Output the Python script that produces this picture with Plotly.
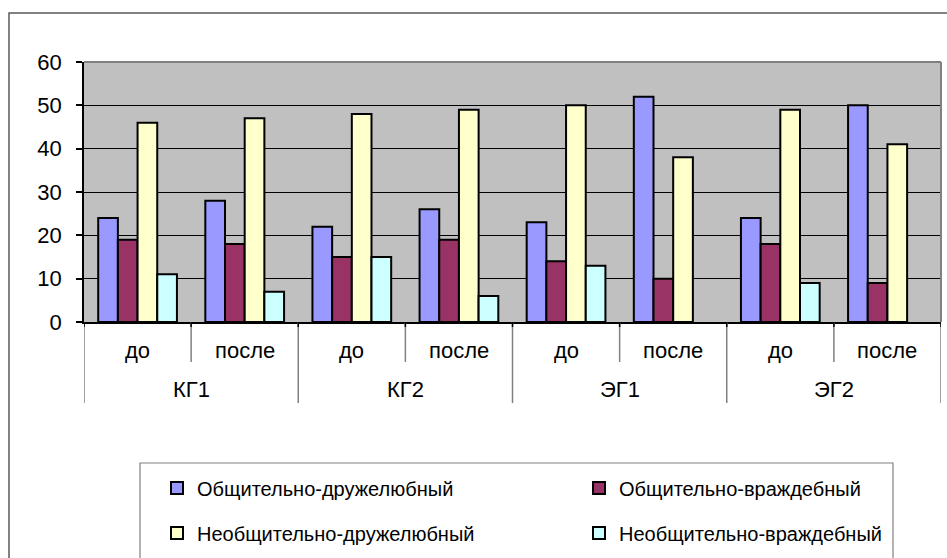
import plotly.graph_objects as go

# Groups, phases and the four communication-style series (percent)
groups = ["КГ1", "КГ2", "ЭГ1", "ЭГ2"]
phases = ["до", "после"]
series_names = [
    "Общительно-дружелюбный",
    "Общительно-враждебный",
    "Необщительно-дружелюбный",
    "Необщительно-враждебный",
]
sociable_friendly = [24, 28, 22, 26, 23, 52, 24, 50]
sociable_hostile = [19, 18, 15, 19, 14, 10, 18, 9]
unsociable_friendly = [46, 47, 48, 49, 50, 38, 49, 41]
unsociable_hostile = [11, 7, 15, 6, 13, None, 9, None]
y_ticks = [0, 10, 20, 30, 40, 50, 60]

colors = ["#9999FF", "#993366", "#FFFFCC", "#CCFFFF"]
values = [sociable_friendly, sociable_hostile, unsociable_friendly, unsociable_hostile]

W, H = 947, 558
L, R, T, B = 84, 6, 62, 236
plot_h = H - T - B
FONT = "Liberation Sans, Arial, sans-serif"
FS = 22

n_cat = len(groups) * len(phases)
xpos = list(range(n_cat))


def py(pix):
    """Pixel row -> paper y."""
    return (H - B - pix) / plot_h


def px(pix):
    """Pixel column -> paper x."""
    return (pix - L) / (W - L - R)


fig = go.Figure()
for i, (name, vals, col) in enumerate(zip(series_names, values, colors)):
    fig.add_trace(go.Bar(
        x=xpos, y=vals, name=name,
        marker=dict(color=col, line=dict(color="black", width=2)),
        legend="legend" if i < 2 else "legend2",
    ))

annotations = []
for i in range(n_cat):
    annotations.append(dict(
        x=i, y=py(350), xref="x", yref="paper", text=phases[i % 2],
        showarrow=False, font=dict(size=FS, family=FONT, color="black"),
        xanchor="center", yanchor="middle"))
for g, gname in enumerate(groups):
    annotations.append(dict(
        x=2 * g + 0.5, y=py(389), xref="x", yref="paper", text=gname,
        showarrow=False, font=dict(size=FS, family=FONT, color="black"),
        xanchor="center", yanchor="middle"))

shapes = []
# category dividers below the axis
for k in range(n_cat + 1):
    xb = k - 0.5
    bottom = 403 if k % 2 == 0 else 362
    shapes.append(dict(type="line", xref="x", yref="paper", x0=xb, x1=xb,
                       y0=0, y1=py(bottom), line=dict(color="#808080", width=1.5)))
    shapes.append(dict(type="line", xref="x", yref="paper", x0=xb, x1=xb,
                       y0=0, y1=py(327), line=dict(color="black", width=1.5)))
# plot-area frame (top and right)
shapes.append(dict(type="line", xref="paper", yref="paper", x0=0, x1=1, y0=1, y1=1,
                   line=dict(color="#808080", width=2)))
shapes.append(dict(type="line", xref="paper", yref="paper", x0=1, x1=1, y0=0, y1=1,
                   line=dict(color="#808080", width=2)))
# chart frame
shapes.append(dict(type="rect", xref="paper", yref="paper",
                   x0=px(9), x1=px(960), y0=py(13), y1=py(600),
                   line=dict(color="#595959", width=1.5), layer="below"))
# legend frame
shapes.append(dict(type="rect", xref="paper", yref="paper",
                   x0=px(140), x1=px(893), y0=py(463), y1=py(600),
                   line=dict(color="#808080", width=1.2)))

legend_common = dict(
    orientation="h", xref="container", yref="container",
    xanchor="left", yanchor="middle",
    entrywidth=377, entrywidthmode="pixels",
    font=dict(size=20, family=FONT, color="black"),
    bgcolor="rgba(0,0,0,0)", borderwidth=0, itemwidth=30,
)

fig.update_layout(
    width=W, height=H,
    margin=dict(l=L, r=R, t=T, b=B),
    paper_bgcolor="white", plot_bgcolor="#C0C0C0",
    barmode="group", bargap=0.265, bargroupgap=0,
    font=dict(family=FONT, size=FS, color="black"),
    xaxis=dict(range=[-0.5, n_cat - 0.5], showticklabels=False, ticks="",
               showgrid=False, zeroline=False, showline=True,
               linecolor="black", linewidth=1.5, fixedrange=True),
    yaxis=dict(range=[0, 60], tickvals=y_ticks, ticks="outside", ticklen=6,
               tickcolor="black", tickwidth=1.5, showline=True, linecolor="black",
               linewidth=1.5, gridcolor="black", gridwidth=1, zeroline=False,
               ticklabelstandoff=10, tickfont=dict(size=FS, family=FONT),
               fixedrange=True),
    legend=dict(x=(178 - 21) / W, y=1 - 488 / H, **legend_common),
    legend2=dict(x=(178 - 21) / W, y=1 - 533 / H, **legend_common),
    annotations=annotations,
    shapes=shapes,
)

fig.write_html("out.html")
